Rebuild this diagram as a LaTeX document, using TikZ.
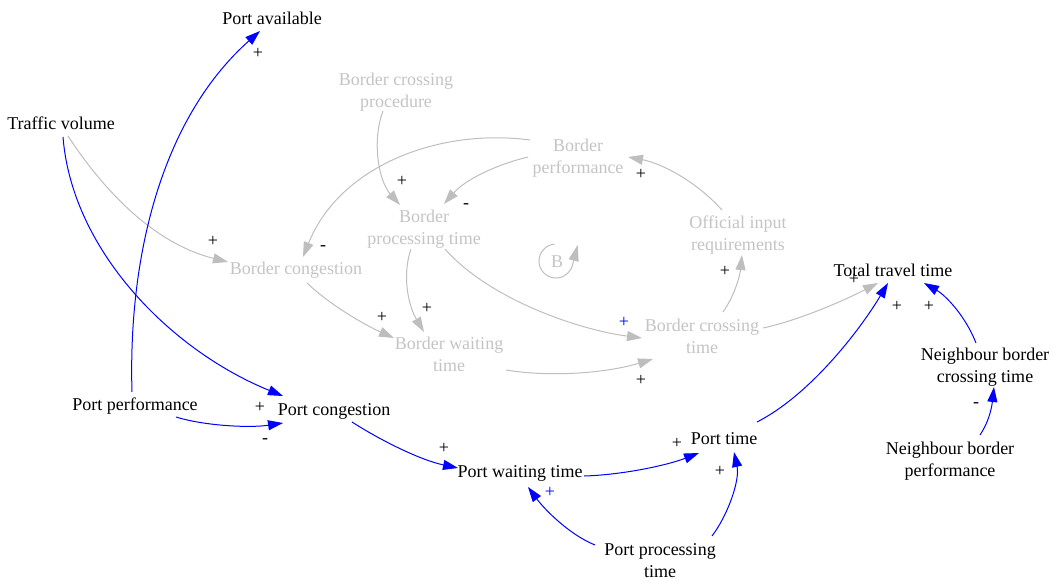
\documentclass[tikz,border=0pt]{standalone}
\usepackage{fontspec}
\setmainfont{Liberation Serif}
\usetikzlibrary{arrows.meta,calc}
\definecolor{linkblue}{RGB}{0,0,255}
\definecolor{fadeline}{RGB}{190,190,190}
\definecolor{fadetext}{RGB}{196,196,196}

\begin{document}
\begin{tikzpicture}[x=1pt,y=-1pt,
  var/.style={anchor=base, inner sep=0pt, align=center, font=\fontsize{18}{22}\selectfont},
  faded/.style={var, text=fadetext},
  sign/.style={inner sep=0pt, font=\fontsize{18}{18}\selectfont},
  mainlink/.style={draw=linkblue, line width=1pt, -{Triangle[length=15pt,width=10pt]}},
  fadelink/.style={draw=fadeline, line width=1pt, -{Triangle[length=15pt,width=10pt]}},
]
\useasboundingbox (0,0) rectangle (1053,581);

% ---- variables of the port sub-system (placed by the baseline of their last line) ----
\node[var] (pavail) at (272,24) {Port available};
\node[var] (traffic) at (61,129) {Traffic volume};
\node[var] (pperf) at (135,410) {Port performance};
\node[var] (pcong) at (334,415) {Port congestion};
\node[var] (pwait) at (520,477) {Port waiting time};
\node[var] (ptime) at (724,444) {Port time};
\node[var] (pproc) at (660,577) {Port processing\\time};
\node[var] (totalt) at (893,276) {Total travel time};
\node[var] (nbct) at (985,382) {Neighbour border\\crossing time};
\node[var] (nbperf) at (950,476) {Neighbour border\\performance};

% ---- variables of the border loop ----
\node[faded] (bcproc) at (396,107) {Border crossing\\procedure};
\node[faded] (bperf) at (578,173) {Border\\performance};
\node[faded] (bproct) at (424,244) {Border\\processing time};
\node[faded] (bcong) at (296,274) {Border congestion};
\node[faded] (oir) at (738,250) {Official input\\requirements};
\node[faded] (bwait) at (449,371) {Border waiting\\time};
\node[faded] (bcross) at (702,353) {Border crossing\\time};
\node[faded] (loopB) at (557,267) {B};

% ---- border loop links ----
\draw[fadelink] ($(traffic.base)+(7,7)$) .. controls (110,200) and (160,245) .. ($(bcong.base)+(-68,-12)$);
\draw[fadelink] ($(bcproc.base)+(-13,4)$) .. controls (372,140) and (378,180) .. ($(bproct.base)+(-24,-39)$);
\draw[fadelink] ($(bperf.base)+(-50,-16)$) .. controls (495,165) and (465,180) .. ($(bproct.base)+(20,-40)$);
\draw[fadelink] ($(bperf.base)+(-48,-33)$) .. controls (440,128) and (340,165) .. ($(bcong.base)+(7,-17)$);
\draw[fadelink] ($(bproct.base)+(-13,5)$) .. controls (402,275) and (408,305) .. ($(bwait.base)+(-25,-39)$);
\draw[fadelink] ($(bcong.base)+(11,9)$) .. controls (330,305) and (365,325) .. ($(bwait.base)+(-55,-33)$);
\draw[fadelink] ($(bproct.base)+(21,5)$) .. controls (490,300) and (580,330) .. ($(bcross.base)+(-60,-15)$);
\draw[fadelink] ($(bwait.base)+(57,-1)$) .. controls (555,378) and (610,372) .. ($(bcross.base)+(-49,6)$);
\draw[fadelink] ($(bcross.base)+(21,-41)$) .. controls (735,295) and (740,275) .. ($(oir.base)+(4,5)$);
\draw[fadelink] ($(oir.base)+(-16,-40)$) .. controls (695,180) and (660,163) .. ($(bperf.base)+(50,-16)$);
\draw[fadelink] ($(bcross.base)+(61,-25)$) .. controls (800,320) and (845,300) .. ($(totalt.base)+(-15,7)$);

% balancing loop marker: open circle round the B, ending in an upward tip
\draw[draw=fadeline, line width=1pt, -{Triangle[length=16pt,width=10pt]}]
  ($(loopB.base)+(-2.5,-22.9)$) arc[start angle=265, end angle=10, radius=17] -- ++(5,-19);

% ---- port links ----
\draw[mainlink] ($(pperf.base)+(-3,-18)$) .. controls (128,260) and (160,120) .. ($(pavail.base)+(-12,7)$);
\draw[mainlink] ($(traffic.base)+(2,8)$) .. controls (72,250) and (170,350) .. ($(pcong.base)+(-51,-19)$);
\draw[mainlink] ($(pperf.base)+(41,7)$) .. controls (205,426) and (250,428) .. ($(pcong.base)+(-51,8)$);
\draw[mainlink] ($(pcong.base)+(18,7)$) .. controls (380,440) and (420,460) .. ($(pwait.base)+(-62,-9)$);
\draw[mainlink] ($(pwait.base)+(64,-1)$) .. controls (620,475) and (665,466) .. ($(ptime.base)+(-25,9)$);
\draw[mainlink] ($(pproc.base)+(-65,-32)$) .. controls (570,535) and (545,510) .. ($(pwait.base)+(8,10)$);
\draw[mainlink] ($(pproc.base)+(52,-41)$) .. controls (728,515) and (740,480) .. ($(ptime.base)+(10,8)$);
\draw[mainlink] ($(ptime.base)+(33,-22)$) .. controls (810,395) and (860,330) .. ($(totalt.base)+(-5,7)$);
\draw[mainlink] ($(nbct.base)+(-9,-39)$) .. controls (965,315) and (945,295) .. ($(totalt.base)+(31,7)$);
\draw[mainlink] ($(nbperf.base)+(30,-41)$) .. controls (990,420) and (992,405) .. ($(nbct.base)+(9,5)$);

% ---- polarity signs ----
\node[sign] (s1) at (258,53) {+};
\node[sign] (s2) at (213,241) {+};
\node[sign] (s3) at (323,248) {-};
\node[sign] (s4) at (402,181) {+};
\node[sign] (s5) at (466,206) {-};
\node[sign] (s6) at (641,174) {+};
\node[sign] (s7) at (382,317) {+};
\node[sign] (s8) at (427,308) {+};
\node[sign, text=linkblue] (s9) at (624,322) {+};
\node[sign] (s10) at (725,271) {+};
\node[sign] (s11) at (641,380) {+};
\node[sign] (s12) at (854,279) {+};
\node[sign] (s13) at (897,306) {+};
\node[sign] (s14) at (929,306) {+};
\node[sign] (s15) at (976,405) {-};
\node[sign] (s16) at (260,407) {+};
\node[sign] (s17) at (265,441) {-};
\node[sign] (s18) at (444,448) {+};
\node[sign] (s19) at (677,443) {+};
\node[sign] (s20) at (720,471) {+};
\node[sign, text=linkblue] (s21) at (550,492) {+};
\end{tikzpicture}
\end{document}
